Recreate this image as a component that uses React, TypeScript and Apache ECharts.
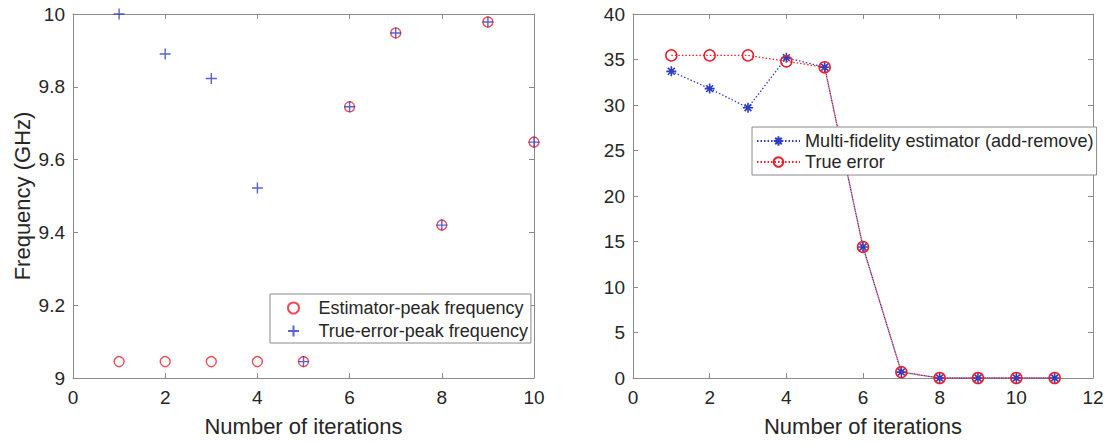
import React, { useEffect, useRef } from "react";
import * as echarts from "echarts";

// ---- Data ----
const iterationsLeft = [1, 2, 3, 4, 5, 6, 7, 8, 9, 10];
const estimatorPeakFreq = [9.045, 9.045, 9.045, 9.045, 9.045, 9.745, 9.948, 9.42, 9.978, 9.648];
const trueErrorPeakFreq = [10.0, 9.89, 9.823, 9.522, 9.045, 9.745, 9.948, 9.42, 9.978, 9.648];

const iterationsRight = [1, 2, 3, 4, 5, 6, 7, 8, 9, 10, 11];
const multiFidelityEstimator = [33.7, 31.8, 29.7, 35.2, 34.15, 14.4, 0.65, 0, 0, 0, 0];
const trueErrorValues = [35.45, 35.45, 35.45, 34.8, 34.15, 14.4, 0.65, 0, 0, 0, 0];

const leftXTicks = { min: 0, max: 10, interval: 2 };
const leftYTicks = { min: 9, max: 10, interval: 0.2 };
const rightXTicks = { min: 0, max: 12, interval: 2 };
const rightYTicks = { min: 0, max: 40, interval: 5 };

const legendLeftNames = ["Estimator-peak frequency", "True-error-peak frequency"];
const legendRightNames = ["Multi-fidelity estimator (add-remove)", "True error"];

// ---- Styles ----
const FONT = "Arial, 'Liberation Sans', Helvetica, sans-serif";
const TEXT = "#262626";
const AXIS = "#8a8a8a";
const RED = "#e8202a";
const BLUE = "#2c3cc4";

const PLUS = "path://M5 0 L5 10 M0 5 L10 5";
const ASTERISK = "path://M5 0 L5 10 M0 5 L10 5 M1.6 1.6 L8.4 8.4 M8.4 1.6 L1.6 8.4";

function pairs(xs: number[], ys: number[]) {
  return xs.map((x, i) => [x, ys[i]]);
}

function mkX(grid: number, t: any, main: boolean, name?: string) {
  return {
    gridIndex: grid,
    type: "value",
    min: t.min,
    max: t.max,
    interval: t.interval,
    position: main ? "bottom" : "top",
    axisLine: { show: true, onZero: false, lineStyle: { color: AXIS, width: 1 } },
    axisTick: { show: true, inside: true, length: 5, lineStyle: { color: AXIS } },
    axisLabel: { show: main, color: TEXT, fontSize: 19, fontFamily: FONT, margin: 10 },
    splitLine: { show: false },
    name: main ? name : undefined,
    nameLocation: "middle",
    nameGap: 37,
    nameTextStyle: { color: TEXT, fontSize: 22, fontFamily: FONT },
  };
}

function mkY(grid: number, t: any, main: boolean, name?: string) {
  return {
    gridIndex: grid,
    type: "value",
    min: t.min,
    max: t.max,
    interval: t.interval,
    position: main ? "left" : "right",
    axisLine: { show: true, onZero: false, lineStyle: { color: AXIS, width: 1 } },
    axisTick: { show: true, inside: true, length: 5, lineStyle: { color: AXIS } },
    axisLabel: { show: main, color: TEXT, fontSize: 19, fontFamily: FONT, margin: 8 },
    splitLine: { show: false },
    name: main ? name : undefined,
    nameLocation: "middle",
    nameGap: 40,
    nameTextStyle: { color: TEXT, fontSize: 22, fontFamily: FONT },
  };
}

export default function App() {
  const ref = useRef<HTMLDivElement>(null);

  useEffect(() => {
    if (!ref.current) return;
    const chart = echarts.init(ref.current, undefined, { renderer: "svg" });
    const option: any = {
      animation: false,
      backgroundColor: "#ffffff",
      textStyle: { fontFamily: FONT },
      grid: [
        { left: 73, top: 14, width: 461, height: 364, containLabel: false },
        { left: 633, top: 14, width: 460, height: 364, containLabel: false },
      ],
      xAxis: [
        mkX(0, leftXTicks, true, "Number of iterations"),
        mkX(0, leftXTicks, false),
        mkX(1, rightXTicks, true, "Number of iterations"),
        mkX(1, rightXTicks, false),
      ],
      yAxis: [
        mkY(0, leftYTicks, true, "Frequency (GHz)"),
        mkY(0, leftYTicks, false),
        mkY(1, rightYTicks, true),
        mkY(1, rightYTicks, false),
      ],
      legend: [
        {
          data: legendLeftNames,
          orient: "vertical",
          left: 270,
          top: 294,
          padding: [5, 3, 3, 17],
          itemGap: 5,
          itemWidth: 40,
          itemHeight: 11,
          backgroundColor: "#ffffff",
          borderColor: AXIS,
          borderWidth: 1,
          borderRadius: 0,
          textStyle: { color: TEXT, fontSize: 18, fontFamily: FONT },
        },
        {
          data: legendRightNames,
          orient: "vertical",
          left: 752,
          top: 127,
          padding: [5, 3, 4, 4],
          itemGap: 3,
          itemWidth: 43,
          itemHeight: 12,
          backgroundColor: "#ffffff",
          borderColor: AXIS,
          borderWidth: 1,
          borderRadius: 0,
          textStyle: { color: TEXT, fontSize: 18.1, fontFamily: FONT },
        },
      ],
      series: [
        {
          name: legendLeftNames[0],
          type: "scatter",
          xAxisIndex: 0,
          yAxisIndex: 0,
          symbol: "circle",
          symbolSize: 10,
          itemStyle: { color: "rgba(0,0,0,0)", borderColor: RED, borderWidth: 1.4 },
          data: pairs(iterationsLeft, estimatorPeakFreq),
          z: 2,
        },
        {
          name: legendLeftNames[1],
          type: "scatter",
          xAxisIndex: 0,
          yAxisIndex: 0,
          symbol: PLUS,
          symbolSize: 11,
          itemStyle: { color: "rgba(0,0,0,0)", borderColor: BLUE, borderWidth: 1.4 },
          data: pairs(iterationsLeft, trueErrorPeakFreq),
          z: 3,
        },
        {
          name: legendRightNames[0],
          type: "line",
          xAxisIndex: 2,
          yAxisIndex: 2,
          symbol: ASTERISK,
          symbolSize: 10,
          showAllSymbol: true,
          itemStyle: { color: "rgba(0,0,0,0)", borderColor: BLUE, borderWidth: 1.6 },
          lineStyle: { color: BLUE, width: 1.3, type: [1.5, 2] },
          data: pairs(iterationsRight, multiFidelityEstimator),
          z: 2,
        },
        {
          name: legendRightNames[1],
          type: "line",
          xAxisIndex: 2,
          yAxisIndex: 2,
          symbol: "circle",
          symbolSize: 11,
          showAllSymbol: true,
          itemStyle: { color: "rgba(0,0,0,0)", borderColor: RED, borderWidth: 1.5 },
          lineStyle: { color: RED, width: 1.3, type: [1.5, 2] },
          data: pairs(iterationsRight, trueErrorValues),
          z: 3,
        },
      ],
    };
    chart.setOption(option);
    return () => {
      chart.dispose();
    };
  }, []);

  return (
    <div
      ref={ref}
      style={{ position: "fixed", left: 0, top: 0, width: 1110, height: 444, background: "#fff" }}
    />
  );
}
